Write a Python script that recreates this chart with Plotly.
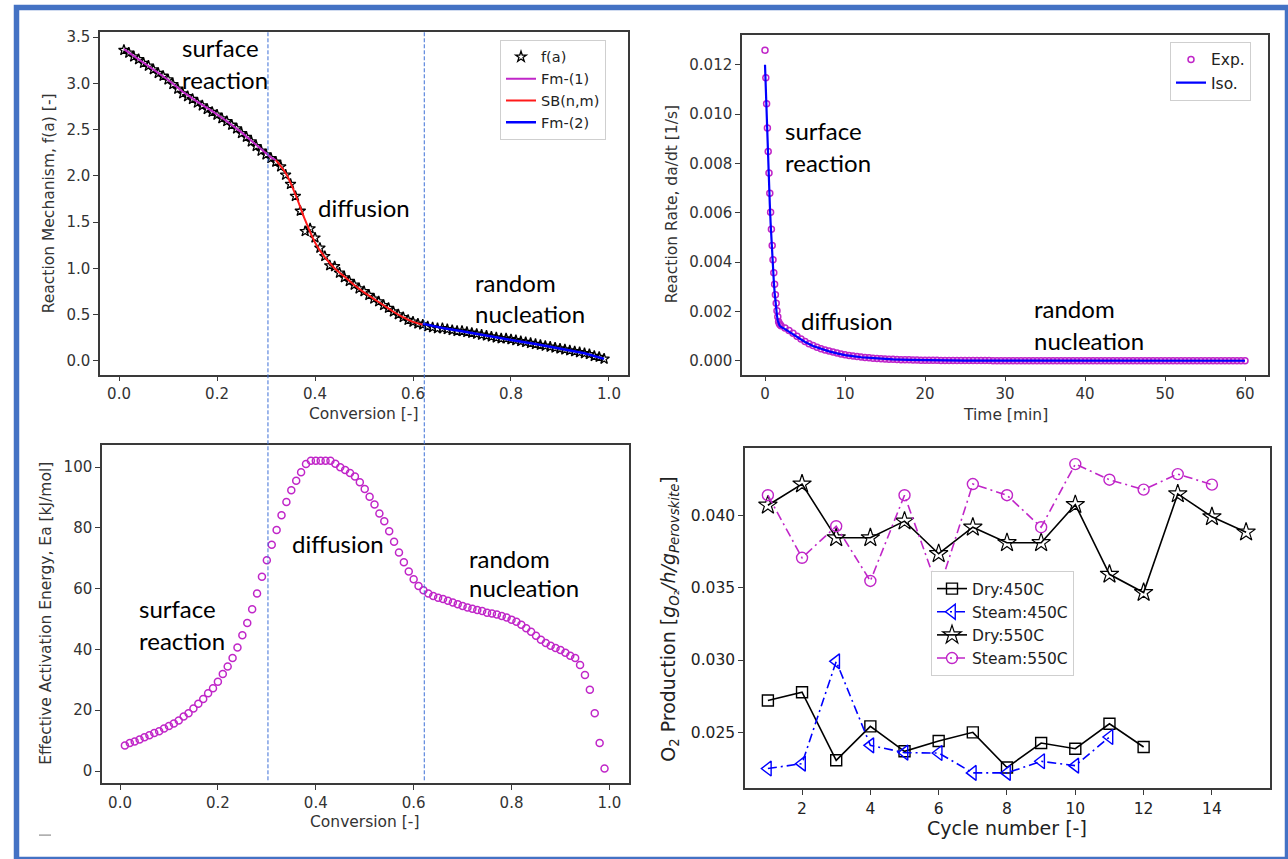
import numpy as np
import plotly.graph_objects as go

W, H = 1288, 859

# ---------------- data ----------------
# Top-left: reaction mechanism f(a) vs conversion
conversion = np.round(np.arange(1, 100) * 0.01, 2)
f_a = [3.36, 3.33, 3.29, 3.26, 3.22, 3.19, 3.15, 3.11, 3.08, 3.04,
       2.99, 2.94, 2.89, 2.86, 2.83, 2.79, 2.76, 2.72, 2.69, 2.66,
       2.62, 2.59, 2.55, 2.51, 2.46, 2.42, 2.37, 2.32, 2.27, 2.23,
       2.19, 2.15, 2.10, 2.01, 1.91, 1.78, 1.62, 1.40, 1.43, 1.33,
       1.22, 1.13, 1.03, 1.02, 0.95, 0.90, 0.86, 0.82, 0.78, 0.75,
       0.71, 0.67, 0.64, 0.60, 0.57, 0.53, 0.50, 0.47, 0.44, 0.42,
       0.40, 0.39, 0.37, 0.36, 0.35, 0.35, 0.34, 0.33, 0.32, 0.32,
       0.31, 0.30, 0.29, 0.28, 0.27, 0.26, 0.25, 0.24, 0.24, 0.23,
       0.22, 0.21, 0.20, 0.19, 0.18, 0.17, 0.16, 0.15, 0.14, 0.13,
       0.12, 0.11, 0.10, 0.09, 0.08, 0.07, 0.05, 0.04, 0.02]
fm1_x = [0.01, 0.04, 0.07, 0.10, 0.13, 0.16, 0.19, 0.22, 0.25, 0.28, 0.31, 0.32]
fm1_y = [3.37, 3.26, 3.15, 3.04, 2.91, 2.80, 2.70, 2.59, 2.47, 2.33, 2.20, 2.17]
sb_x = [0.32, 0.34, 0.36, 0.38, 0.40, 0.42, 0.44, 0.46, 0.48, 0.50,
        0.52, 0.54, 0.56, 0.58, 0.60, 0.62]
sb_y = [2.17, 2.03, 1.80, 1.52, 1.28, 1.12, 1.00, 0.91, 0.82, 0.74,
        0.67, 0.60, 0.53, 0.47, 0.42, 0.39]
fm2_x = [0.62, 0.66, 0.70, 0.75, 0.80, 0.85, 0.90, 0.95, 0.99]
fm2_y = [0.40, 0.355, 0.32, 0.27, 0.225, 0.18, 0.13, 0.08, 0.02]
region_bounds = [0.304, 0.623]

# Top-right: reaction rate vs time
t_fast = np.round(np.arange(0, 20) * 0.1, 1)
t_slow = np.round(2.0 + np.arange(0, 117) * 0.5, 1)
rate_exp_fast = [0.01259, 0.01147, 0.01042, 0.00944, 0.00848, 0.00761, 0.00679,
                 0.00602, 0.00533, 0.00467, 0.00409, 0.00357, 0.00310, 0.00268,
                 0.00233, 0.00203, 0.00178, 0.00158, 0.00150, 0.00146]
rate_exp_slow = [0.00142, 0.00133, 0.00123, 0.00111, 0.00099, 0.00088, 0.00078,
                 0.00069, 0.00062, 0.00055, 0.00049, 0.00044, 0.00039, 0.00035,
                 0.00031, 0.00027, 0.00024, 0.00021, 0.00019, 0.00017, 0.00015,
                 0.00013, 0.00012, 0.00010, 9.0e-5, 8.0e-5, 7.1e-5, 6.3e-5,
                 5.6e-5, 5.0e-5, 4.4e-5, 3.9e-5, 3.5e-5, 3.1e-5, 2.7e-5, 2.4e-5,
                 2.1e-5,
                 1.9e-5, 1.7e-5, 1.5e-5, 1.3e-5, 1.2e-5, 1.1e-5, 1.0e-5, 9e-6,
                 8e-6, 7e-6, 7e-6, 6e-6, 6e-6, 5e-6, 5e-6, 5e-6, 4e-6, 4e-6,
                 4e-6, 3e-6,
                 3e-6, 3e-6, 3e-6, 3e-6, 2e-6, 2e-6, 2e-6, 2e-6, 2e-6, 2e-6,
                 2e-6, 2e-6, 2e-6, 2e-6, 1e-6, 1e-6, 1e-6, 1e-6, 1e-6, 1e-6,
                 1e-6, 1e-6, 1e-6, 1e-6, 1e-6, 1e-6, 1e-6, 1e-6, 1e-6, 1e-6,
                 1e-6, 1e-6, 0.0, 0.0, 0.0, 0.0, 0.0, 0.0, 0.0, 0.0,
                 0.0, 0.0, 0.0, 0.0, 0.0, 0.0, 0.0, 0.0, 0.0, 0.0,
                 0.0, 0.0, 0.0, 0.0, 0.0, 0.0, 0.0, 0.0, 0.0, 0.0]
t_iso = [0.0, 0.1, 0.2, 0.3, 0.4, 0.5, 0.6, 0.7, 0.8, 0.9, 1.0, 1.1, 1.2, 1.3,
         1.4, 1.5, 1.6, 1.7, 1.8, 1.9, 2.0, 2.5, 3.0, 3.5, 4.0, 5.0, 6.0, 7.0,
         8.0, 9.0, 10.0, 12.0, 14.0, 16.0, 18.0, 20.0, 25.0, 30.0, 40.0, 50.0, 60.0]
rate_iso = [0.01200, 0.01090, 0.00985, 0.00890, 0.00800, 0.00715, 0.00635,
            0.00560, 0.00490, 0.00428, 0.00372, 0.00322, 0.00278, 0.00240,
            0.00208, 0.00182, 0.00162, 0.00150, 0.00144, 0.00140, 0.00137,
            0.00128, 0.00118, 0.00107, 0.00096, 0.00076, 0.00060, 0.00048,
            0.00038, 0.00030, 0.00023, 0.00014, 8.8e-5, 5.5e-5, 3.4e-5,
            2.1e-5, 7e-6, 3e-6, 1e-6, 0.0, 0.0]

# Bottom-left: effective activation energy vs conversion
ea = [8.4, 9.2, 9.7, 10.4, 11.1, 11.8, 12.5, 13.1, 14.0, 14.8,
      15.6, 16.6, 17.9, 19.0, 20.6, 22.1, 23.7, 25.6, 27.2, 29.4,
      31.9, 34.4, 37.2, 40.6, 44.7, 48.7, 53.2, 58.4, 63.9, 69.3,
      74.4, 79.3, 84.1, 88.5, 92.4, 95.5, 98.3, 101.0, 102.1, 102.1,
      102.1, 102.1, 102.1, 101.1, 99.9, 99.0, 98.0, 96.9, 95.0, 92.8,
      90.2, 87.7, 84.7, 82.2, 78.9, 75.4, 71.9, 68.7, 65.6, 63.1,
      60.9, 59.5, 58.4, 57.6, 57.0, 56.6, 56.0, 55.4, 54.9, 54.3,
      53.8, 53.4, 53.0, 52.6, 52.1, 51.8, 51.5, 51.0, 50.5, 49.8,
      49.1, 48.1, 47.0, 45.8, 44.5, 43.2, 42.1, 41.2, 40.5, 39.8,
      38.9, 37.9, 37.2, 34.9, 31.6, 26.7, 19.0, 9.2, 0.8]

# Bottom-right: O2 production vs cycle number
cyc_dry450 = list(range(1, 13))
dry450 = [0.02721, 0.02778, 0.02308, 0.02542, 0.02370, 0.02441, 0.02501,
          0.02258, 0.02427, 0.02388, 0.02560, 0.02400]
cyc_steam450 = list(range(1, 12))
steam450 = [0.02251, 0.02285, 0.02991, 0.02411, 0.02361, 0.02358, 0.02221,
            0.02221, 0.02301, 0.02271, 0.02469]
cyc_dry550 = list(range(1, 16))
dry550 = [0.04069, 0.04215, 0.03844, 0.03844, 0.03959, 0.03734, 0.03917,
          0.03810, 0.03810, 0.04073, 0.03592, 0.03466, 0.04147, 0.03989, 0.03883]
cyc_steam550 = list(range(1, 15))
steam550 = [0.04138, 0.03706, 0.03924, 0.03546, 0.04138, 0.03477, 0.04215,
            0.04138, 0.03917, 0.04353, 0.04245, 0.04177, 0.04284, 0.04211]

# ---------------- styling helpers ----------------
MAG = '#c026c8'
BLUE = '#0000ff'
RED = '#ff1a1a'
AXC = '#3a3a3a'
TICKFONT = dict(family='DejaVu Sans', size=15, color='#333333')
TITLEFONT = dict(family='DejaVu Sans', size=15.5, color='#333333')
NOTEFONT = dict(family='Lato', size=24, color='black')


def px(x):
    return x / W


def py(y):
    return 1 - y / H


def axis(domain, rng, anchor, tickvals, ticktext, tickfont=TICKFONT):
    return dict(domain=domain, range=rng, anchor=anchor, tickvals=tickvals,
                ticktext=ticktext, showgrid=False, zeroline=False,
                showline=True, mirror=True, linecolor=AXC, linewidth=1.5,
                ticks='outside', ticklen=5, tickwidth=1.2, tickcolor=AXC,
                tickfont=tickfont, fixedrange=True)


fig = go.Figure()

# ----- top-left -----
fig.add_trace(go.Scatter(x=conversion, y=f_a, mode='markers', name='f(a)',
                         marker=dict(symbol='star-open', size=8, color='black',
                                     line=dict(width=1.3, color='black')),
                         xaxis='x', yaxis='y', legend='legend'))
fig.add_trace(go.Scatter(x=fm1_x, y=fm1_y, mode='lines', name='Fm-(1)',
                         line=dict(color=MAG, width=2),
                         xaxis='x', yaxis='y', legend='legend'))
fig.add_trace(go.Scatter(x=sb_x, y=sb_y, mode='lines', name='SB(n,m)',
                         line=dict(color=RED, width=2, shape='spline'),
                         xaxis='x', yaxis='y', legend='legend'))
fig.add_trace(go.Scatter(x=fm2_x, y=fm2_y, mode='lines', name='Fm-(2)',
                         line=dict(color=BLUE, width=2.5),
                         xaxis='x', yaxis='y', legend='legend'))

# ----- top-right -----
fig.add_trace(go.Scatter(x=list(t_fast) + list(t_slow),
                         y=rate_exp_fast + rate_exp_slow, mode='markers', name='Exp.',
                         marker=dict(symbol='circle-open', size=6, color=MAG,
                                     line=dict(width=1.5, color=MAG)),
                         xaxis='x2', yaxis='y2', legend='legend2'))
fig.add_trace(go.Scatter(x=t_iso, y=rate_iso, mode='lines', name='Iso.',
                         line=dict(color=BLUE, width=2.2),
                         xaxis='x2', yaxis='y2', legend='legend2'))

# ----- bottom-left -----
fig.add_trace(go.Scatter(x=conversion, y=ea, mode='markers', showlegend=False,
                         marker=dict(symbol='circle-open', size=7, color=MAG,
                                     line=dict(width=1.5, color=MAG)),
                         xaxis='x3', yaxis='y3'))

# ----- bottom-right -----
fig.add_trace(go.Scatter(x=cyc_dry450, y=dry450, mode='lines+markers', name='Dry:450C',
                         line=dict(color='black', width=1.6),
                         marker=dict(symbol='square-open', size=11, color='black',
                                     line=dict(width=1.4, color='black')),
                         xaxis='x4', yaxis='y4', legend='legend3'))
fig.add_trace(go.Scatter(x=cyc_steam450, y=steam450, mode='lines+markers', name='Steam:450C',
                         line=dict(color=BLUE, width=1.6, dash='9px,4px,2px,4px'),
                         marker=dict(symbol='triangle-left-open', size=13, color=BLUE,
                                     line=dict(width=1.4, color=BLUE)),
                         xaxis='x4', yaxis='y4', legend='legend3'))
fig.add_trace(go.Scatter(x=cyc_dry550, y=dry550, mode='lines+markers', name='Dry:550C',
                         line=dict(color='black', width=1.6),
                         marker=dict(symbol='star-open', size=14, color='black',
                                     line=dict(width=1.2, color='black')),
                         xaxis='x4', yaxis='y4', legend='legend3'))
fig.add_trace(go.Scatter(x=cyc_steam550, y=steam550, mode='lines+markers', name='Steam:550C',
                         line=dict(color=MAG, width=1.6, dash='9px,4px,2px,4px'),
                         marker=dict(symbol='circle-open', size=11, color=MAG,
                                     line=dict(width=1.4, color=MAG)),
                         xaxis='x4', yaxis='y4', legend='legend3'))

# ---------------- axes ----------------
conv_ticks = [0.0, 0.2, 0.4, 0.6, 0.8, 1.0]
conv_text = ['0.0', '0.2', '0.4', '0.6', '0.8', '1.0']
fig.update_layout(
    xaxis=axis([px(100), px(628)], [-0.0388, 1.0388], 'y', conv_ticks, conv_text),
    yaxis=axis([py(373), py(29)], [-0.151, 3.557], 'x',
               [0, 0.5, 1, 1.5, 2, 2.5, 3, 3.5],
               ['0.0', '0.5', '1.0', '1.5', '2.0', '2.5', '3.0', '3.5']),
    xaxis2=axis([px(742), px(1268)], [-2.875, 62.875], 'y2',
                [0, 10, 20, 30, 40, 50, 60], ['0', '10', '20', '30', '40', '50', '60']),
    yaxis2=axis([py(373), py(32)], [-0.000566, 0.01321], 'x2',
                [0, 0.002, 0.004, 0.006, 0.008, 0.010, 0.012],
                ['0.000', '0.002', '0.004', '0.006', '0.008', '0.010', '0.012']),
    xaxis3=axis([px(102), px(629)], [-0.0368, 1.040], 'y3', conv_ticks, conv_text),
    yaxis3=axis([py(783), py(444)], [-4.03, 107.1], 'x3',
                [0, 20, 40, 60, 80, 100], ['0', '20', '40', '60', '80', '100']),
    xaxis4=axis([px(745), px(1270)], [0.33, 15.70], 'y4',
                [2, 4, 6, 8, 10, 12, 14], ['2', '4', '6', '8', '10', '12', '14'],
                tickfont=dict(family='DejaVu Sans', size=15.5, color='#222222')),
    yaxis4=axis([py(788), py(447)], [0.02115, 0.04461], 'x4',
                [0.025, 0.030, 0.035, 0.040], ['0.025', '0.030', '0.035', '0.040'],
                tickfont=dict(family='DejaVu Sans', size=15.5, color='#222222')),
)

# ---------------- legends ----------------
def legend_box(x, y, size):
    return dict(x=px(x), y=py(y), xanchor='left', yanchor='top', xref='paper', yref='paper',
                bgcolor='white', bordercolor='#cfcfcf', borderwidth=1, tracegroupgap=0,
                font=dict(family='DejaVu Sans', size=size, color='#222222'))


fig.update_layout(legend=legend_box(500, 37, 14.5),
                  legend2=legend_box(1170, 39, 15.5),
                  legend3=legend_box(931, 570, 15.5))

# ---------------- annotations ----------------
annots = []


def note(text, x, y, font=NOTEFONT, xanchor='left', angle=0):
    annots.append(dict(text=text, x=px(x), y=py(y), xref='paper', yref='paper',
                       xanchor=xanchor, yanchor='middle', showarrow=False,
                       align='left', font=font, textangle=angle))


# axis titles
note('Reaction Mechanism, f(a) [-]', 49, 201, TITLEFONT, 'center', -90)
note('Conversion [-]', 364, 412, TITLEFONT, 'center')
note('Reaction Rate, da/dt [1/s]', 672, 202, TITLEFONT, 'center', -90)
note('Time [min]', 1005, 413, TITLEFONT, 'center')
note('Effective Activation Energy, Ea [kJ/mol]', 46, 613, TITLEFONT, 'center', -90)
note('Conversion [-]', 365, 822, TITLEFONT, 'center')
BRFONT = dict(family='DejaVu Sans', size=19, color='#222222')
note('O<sub>2</sub> Production [<i>g</i><sub><i>O</i>\u2082</sub><i>/h/g</i>'
     '<sub><i>Perovskite</i></sub>]', 670, 618, BRFONT, 'center', -90)
note('Cycle number [-]', 1007, 828, BRFONT, 'center')

# region labels (one annotation per line)
note('surface', 180, 45)
note('reaction', 180, 77)
note('diffusion', 316, 205)
note('random', 473, 280)
note('nucleation', 473, 312)
note('surface', 783, 128)
note('reaction', 783, 160)
note('diffusion', 799, 319)
note('random', 1032, 307)
note('nucleation', 1032, 339)
note('diffusion', 290, 542)
note('random', 467, 557)
note('nucleation', 467, 587)
note('surface', 137, 608)
note('reaction', 137, 640)

# ---------------- shapes ----------------
shapes = []
for xb in region_bounds:
    shapes.append(dict(type='line', xref='x', yref='paper', x0=xb, x1=xb,
                       y0=py(780), y1=py(28),
                       line=dict(color='#3d6fd6', width=1, dash='4px,2px')))
shapes.append(dict(type='line', xref='paper', yref='paper',
                   x0=px(39), x1=px(51), y0=py(835), y1=py(835),
                   line=dict(color='#777777', width=1)))
shapes.append(dict(type='rect', xref='paper', yref='paper',
                   x0=px(16.5), x1=px(1287.5), y0=py(859.5), y1=py(4.5),
                   line=dict(color='#4472c4', width=5.5)))

fig.update_layout(
    width=W, height=H, margin=dict(l=0, r=0, t=0, b=0, pad=0),
    paper_bgcolor='white', plot_bgcolor='white',
    annotations=annots, shapes=shapes,
    font=dict(family='DejaVu Sans', color='#333333'),
)

fig.write_html("out.html", include_plotlyjs=True, config={'displayModeBar': False},
               post_script="document.body.style.margin='0';document.body.style.overflow='hidden';")
